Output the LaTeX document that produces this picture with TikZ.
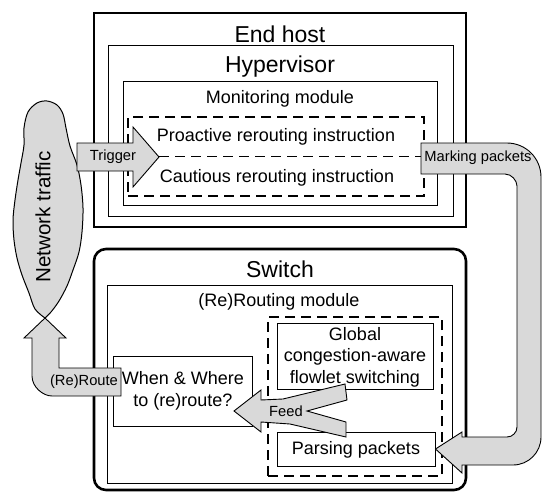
\documentclass[tikz,border=0pt]{standalone}
\usepackage{fontspec}
\setmainfont{Liberation Sans}
\definecolor{agray}{RGB}{217,217,217}
\begin{document}
\begin{tikzpicture}[x=1pt,y=-1pt,
  box/.style={draw, line width=1pt, inner sep=0pt},
  thickbox/.style={draw, line width=2.6pt, inner sep=0pt},
  dbox/.style={draw, line width=1.1pt, dash pattern=on 10pt off 6pt, inner sep=0pt},
  blk/.style={draw, line width=0.9pt, fill=agray, line join=miter},
  big/.style={font=\fontsize{23}{26}\selectfont, inner sep=0pt},
  mid/.style={font=\fontsize{18}{21.5}\selectfont, align=center, inner sep=0pt},
  sml/.style={font=\fontsize{14.7}{17}\selectfont, inner sep=0pt}]
\useasboundingbox (0,0) rectangle (542,493);

% ---------------- End host ----------------
\node[thickbox, minimum width=372pt, minimum height=214pt] (endhost) at (280,120) {};
\node[box, minimum width=345pt, minimum height=171pt] (hyper) at (280.5,130.5) {};
\node[box, minimum width=314pt, minimum height=124pt] (monitor) at (280,143) {};
\node[dbox, minimum width=296pt, minimum height=79pt] (instr) at (276,156.5) {};
\draw[line width=1.1pt, dash pattern=on 10pt off 6pt] (instr.west) -- (instr.east);

\node[big] (endhostlbl) at (280,34) {End host};
\node[big] (hyperlbl) at (280,67) {Hypervisor};
\node[mid] (monitorlbl) at (280,99) {Monitoring module};
\node[mid] (proactivelbl) at (276,137) {Proactive rerouting instruction};
\node[mid] (cautiouslbl) at (277,178) {Cautious rerouting instruction};

% ---------------- Switch ----------------
\node[thickbox, rounded corners=12pt, minimum width=372pt, minimum height=241pt] (switch) at (280,369.5) {};
\node[box, minimum width=345pt, minimum height=198pt] (routing) at (279.5,384) {};
\node[dbox, minimum width=174pt, minimum height=159pt] (flowgroup) at (355,396.5) {};
\node[box, minimum width=156pt, minimum height=66pt] (global) at (355,356) {};
\node[box, minimum width=158pt, minimum height=34pt] (parsing) at (356,449) {};
\node[box, minimum width=139pt, minimum height=70pt] (when) at (182.5,391) {};

\node[big] (switchlbl) at (280,269) {Switch};
\node[mid] (routinglbl) at (279,302) {(Re)Routing module};
\node[mid] (globallbl) at (355,357) {Global\\congestion-aware\\flowlet switching};
\node[mid] (parsinglbl) at (356,450) {Parsing packets};
\node[mid] (whenlbl) at (183,391) {When \& Where\\to (re)route?};

% ---------------- Network traffic cloud ----------------
\draw[blk, line width=1pt] plot[smooth, tension=0.55] coordinates {
  (45,318) (35,309) (29,293) (22,275) (17,258) (14,240) (13,220) (15,200)
  (18,180) (21,163) (24,145) (24,128) (28,112) (37,103) (47,101) (57,105)
  (63,114) (66,128) (70,146) (77,165) (81,185) (83,208) (82,232) (79,252)
  (73,270) (67,286) (59,301) (51,312) (45,318)} -- cycle;
\node[font=\fontsize{20.6}{24}\selectfont, rotate=90, inner sep=0pt] (traffic) at (43,217) {Network traffic};
\coordinate (cloudbottom) at (45,318);

% ---------------- Block arrows ----------------
% Trigger
\draw[blk] (77,143) -- (133,143) -- (133,127) -- (159,157) -- (133,187)
  -- (133,171) -- (77,171) -- cycle;
\node[sml] (triggerlbl) at (113,157) {Trigger};

% Marking packets U-arrow into Parsing packets
\draw[blk] (421,143) -- (507,143) .. controls (525.8,143) and (541,158.2) .. (541,177)
  -- (541,437) .. controls (541,452.5) and (528.5,465) .. (513,465)
  -- (462,465) -- (462,473) -- (parsing.east) -- (462,432) -- (462,437)
  -- (507,437) .. controls (512.5,437) and (517,432.5) .. (517,427)
  -- (517,186) .. controls (517,180.6) and (511.6,174) .. (505,174)
  -- (421,174) -- cycle;
\node[sml] (markinglbl) at (478,158) {Marking packets};

% (Re)Route arrow to the cloud
\draw[blk] (121,368) -- (59,368) -- (59,338) -- (66,338) -- (cloudbottom)
  -- (24,338) -- (32,338) -- (32,376) .. controls (32,387) and (43,396) .. (52,396)
  -- (121,396) -- cycle;
\node[sml] (reroutelbl) at (84,382) {(Re)Route};

% Feed arrow (merge of two inputs)
\draw[blk] (234,411) -- (261,390) -- (261,400) -- (283,399) -- (345,384)
  -- (347,400) -- (307,411) -- (346,422) -- (346,437) -- (290,424)
  -- (261,422) -- (261,432) -- cycle;
\node[sml] (feedlbl) at (286,411) {Feed};
\end{tikzpicture}
\end{document}
